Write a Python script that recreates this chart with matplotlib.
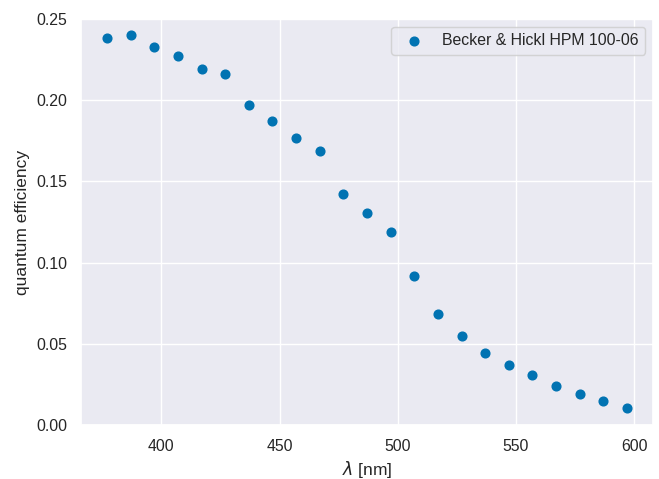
import matplotlib
matplotlib.use("Agg")
import matplotlib.pyplot as plt
import seaborn as sns

wavelength = [377, 387, 397, 407, 417, 427, 437, 447, 457, 467, 477, 487,
              497, 507, 517, 527, 537, 547, 557, 567, 577, 587, 597]
qe = [0.238, 0.240, 0.233, 0.227, 0.219, 0.216, 0.197, 0.187, 0.177, 0.1685,
      0.1425, 0.1305, 0.119, 0.092, 0.0685, 0.055, 0.0445, 0.037, 0.0305,
      0.024, 0.019, 0.0145, 0.0105]
label = "Becker & Hickl HPM 100-06"

sns.set_theme(style="darkgrid", palette="colorblind")
plt.rcParams['font.family'] = ['Liberation Sans', 'DejaVu Sans']

DPI = 104
fig = plt.figure(figsize=(659/DPI, 479/DPI), dpi=DPI)
ax = fig.add_axes([81/659, 54/479, (653-81)/659, (425-19)/479])
ax.scatter(wavelength, qe, label=label)
ax.set_ylim(0, 0.25)
ax.set_xlabel(r"$\lambda$ [nm]")
ax.set_ylabel("quantum efficiency")
ax.legend(loc="upper right")
fig.savefig("out.png", dpi=DPI)
